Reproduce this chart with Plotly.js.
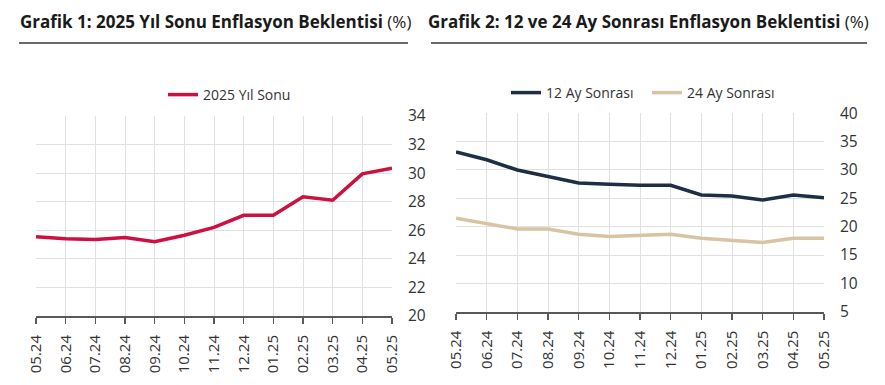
<!DOCTYPE html>
<html>
<head>
<meta charset="utf-8">
<script src="https://cdn.plot.ly/plotly-3.0.1.min.js"></script>
<style>html,body{margin:0;padding:0;background:#fff;}#chart{width:885px;height:385px;}</style>
</head>
<body>
<div id="chart"></div>
<script>
const months = ["05.24","06.24","07.24","08.24","09.24","10.24","11.24","12.24","01.25","02.25","03.25","04.25","05.25"];
const yilSonu2025 = [25.55,25.4,25.35,25.5,25.2,25.65,26.2,27.05,27.05,28.35,28.1,29.95,30.35];
const ay12 = [33.2,31.8,30.0,28.8,27.7,27.5,27.3,27.3,25.6,25.4,24.7,25.6,25.1];
const ay24 = [21.5,20.6,19.6,19.6,18.65,18.25,18.4,18.65,17.95,17.5,17.2,17.95,17.95];
const title1 = "Grafik 1: 2025 Yıl Sonu Enflasyon Beklentisi";
const title2 = "Grafik 2: 12 ve 24 Ay Sonrası Enflasyon Beklentisi";
const names = ["2025 Yıl Sonu","12 Ay Sonrası","24 Ay Sonrası"];

const W = 885, H = 385;
const px = v => v / W, py = v => 1 - v / H;

const traces = [
  {x: months, y: yilSonu2025, name: names[0], type: 'scatter', mode: 'lines',
   line: {color: '#cc1040', width: 3.5}, xaxis: 'x', yaxis: 'y', legend: 'legend'},
  {x: months, y: ay12, name: names[1], type: 'scatter', mode: 'lines',
   line: {color: '#1c2f44', width: 3.5}, xaxis: 'x2', yaxis: 'y2', legend: 'legend2'},
  {x: months, y: ay24, name: names[2], type: 'scatter', mode: 'lines',
   line: {color: '#d8c3a2', width: 3.5}, xaxis: 'x2', yaxis: 'y2', legend: 'legend2'}
];

const xCommon = {
  type: 'category', range: [0, 12], tickangle: -90,
  showgrid: true, gridcolor: '#e0e0e0', gridwidth: 1,
  showline: true, linecolor: '#595959', linewidth: 2,
  ticks: 'outside', ticklen: 6, tickcolor: '#595959', tickwidth: 1.5,
  ticklabelstandoff: 5,
  tickfont: {family: 'Open Sans, sans-serif', size: 15, color: '#333'},
  zeroline: false, fixedrange: true
};
const yCommon = {
  side: 'right', showgrid: true, gridcolor: '#e0e0e0', gridwidth: 1,
  showline: false, ticks: '', zeroline: false, ticklabelstandoff: 15,
  tickfont: {family: 'Open Sans, sans-serif', size: 15.5, color: '#333'}, fixedrange: true
};

const layout = {
  width: W, height: H, margin: {l: 0, r: 0, t: 0, b: 0},
  paper_bgcolor: '#fff', plot_bgcolor: '#fff',
  font: {family: 'Open Sans, sans-serif', color: '#333'},
  xaxis: Object.assign({}, xCommon, {domain: [px(36), px(392)], anchor: 'y'}),
  yaxis: Object.assign({}, yCommon, {domain: [py(316), py(116)], range: [20, 34], dtick: 2, anchor: 'x'}),
  xaxis2: Object.assign({}, xCommon, {domain: [px(456), px(824)], anchor: 'y2'}),
  yaxis2: Object.assign({}, yCommon, {domain: [py(311.7), py(113.3)], range: [5, 40], dtick: 5, anchor: 'x2'}),
  legend: {orientation: 'h', x: px(163), y: py(95), xanchor: 'left', yanchor: 'middle',
           font: {family: 'Open Sans, sans-serif', size: 14, color: '#333'}, bgcolor: 'rgba(0,0,0,0)'},
  legend2: {orientation: 'h', x: px(506), y: py(93), xanchor: 'left', yanchor: 'middle', entrywidth: 96,
           font: {family: 'Open Sans, sans-serif', size: 14, color: '#333'}, bgcolor: 'rgba(0,0,0,0)'},
  annotations: [
    {text: '<b>' + title1 + '</b> (%)', xref: 'paper', yref: 'paper',
     x: px(18), y: py(21), xanchor: 'left', yanchor: 'middle', showarrow: false,
     font: {family: 'Open Sans, sans-serif', size: 17, color: '#1a1a1a'}},
    {text: '<b>' + title2 + '</b> (%)', xref: 'paper', yref: 'paper',
     x: px(426), y: py(21), xanchor: 'left', yanchor: 'middle', showarrow: false,
     font: {family: 'Open Sans, sans-serif', size: 17, color: '#1a1a1a'}}
  ],
  shapes: [
    {type: 'line', xref: 'paper', yref: 'paper', x0: px(19), x1: px(408), y0: py(43), y1: py(43),
     line: {color: '#6b6b6b', width: 2}},
    {type: 'line', xref: 'paper', yref: 'paper', x0: px(431), x1: px(867), y0: py(43), y1: py(43),
     line: {color: '#6b6b6b', width: 2}}
  ],
  showlegend: true
};

Plotly.newPlot('chart', traces, layout, {displayModeBar: false, staticPlot: true});
</script>
</body>
</html>
